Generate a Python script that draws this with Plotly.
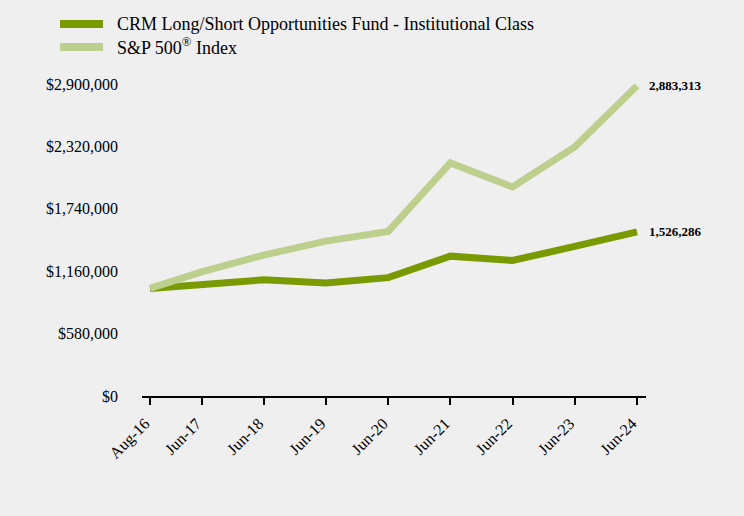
import plotly.graph_objects as go

categories = ["Aug-16", "Jun-17", "Jun-18", "Jun-19", "Jun-20", "Jun-21", "Jun-22", "Jun-23", "Jun-24"]
dates = ["2016-08-31", "2017-06-30", "2018-06-30", "2019-06-30", "2020-06-30",
         "2021-06-30", "2022-06-30", "2023-06-30", "2024-06-30"]
fund_values = [1000000, 1030000, 1080000, 1050000, 1100000, 1300000, 1260000, 1390000, 1526286]
sp500_values = [1000000, 1153000, 1310000, 1440000, 1530000, 2166000, 1943000, 2314000, 2883313]
fund_name = "CRM Long/Short Opportunities Fund - Institutional Class"
sp_name = "S&P 500<sup>®</sup> Index"
y_ticks = [0, 580000, 1160000, 1740000, 2320000, 2900000]

dark = "#7a9a01"
light = "#bccf8c"
font = "Liberation Serif, Times New Roman, serif"

L, R, T, B = 142, 98, 84, 120
W, H = 744, 516
PW, PH = W - L - R, H - T - B

fig = go.Figure()
fig.add_trace(go.Scatter(x=dates, y=fund_values, mode="lines", name=fund_name,
                         line=dict(color=dark, width=7), cliponaxis=False, showlegend=False))
fig.add_trace(go.Scatter(x=dates, y=sp500_values, mode="lines", name=sp_name,
                         line=dict(color=light, width=7), cliponaxis=False, showlegend=False))

for vals in (fund_values, sp500_values):
    fig.add_annotation(x=dates[-1], y=vals[-1], text=f"<b>{vals[-1]:,}</b>", showarrow=False,
                       xanchor="left", xshift=10, font=dict(family=font, size=13, color="black"))

# manual legend
for i, (name, col) in enumerate([(fund_name, dark), (sp_name, light)]):
    ypx = 24 + 23 * i
    yp = (H - B - ypx) / PH
    fig.add_shape(type="line", xref="paper", yref="paper",
                  x0=(60 - L) / PW, x1=(103 - L) / PW, y0=yp, y1=yp,
                  line=dict(color=col, width=8))
    fig.add_annotation(xref="paper", yref="paper", x=(115 - L) / PW, y=yp, text=name,
                       showarrow=False, xanchor="left", yanchor="middle",
                       font=dict(family=font, size=18, color="black"))

fig.update_layout(
    width=W, height=H,
    paper_bgcolor="#efefef", plot_bgcolor="#efefef",
    margin=dict(l=L, r=R, t=T, b=B, autoexpand=False),
    font=dict(family=font, size=15, color="black"),
    showlegend=False,
)
fig.update_xaxes(
    type="date", tickmode="array", tickvals=dates, ticktext=categories,
    range=["2016-07-15", "2024-08-22"], showgrid=False, zeroline=False, showline=True,
    linecolor="black", linewidth=2, ticks="outside", ticklen=7, tickwidth=2, tickcolor="black",
    tickangle=-45, tickfont=dict(size=16), ticklabelstandoff=3, ticklabelshift=-5,
)
fig.update_yaxes(
    range=[0, 2900000], tickvals=y_ticks, ticktext=[f"${v:,}" for v in y_ticks],
    showgrid=False, zeroline=False, showline=False, ticks="", ticklabelstandoff=23,
    tickfont=dict(size=16),
)
fig.write_html("out.html", config={"displayModeBar": False},
               post_script="document.body.style.margin='0';")
